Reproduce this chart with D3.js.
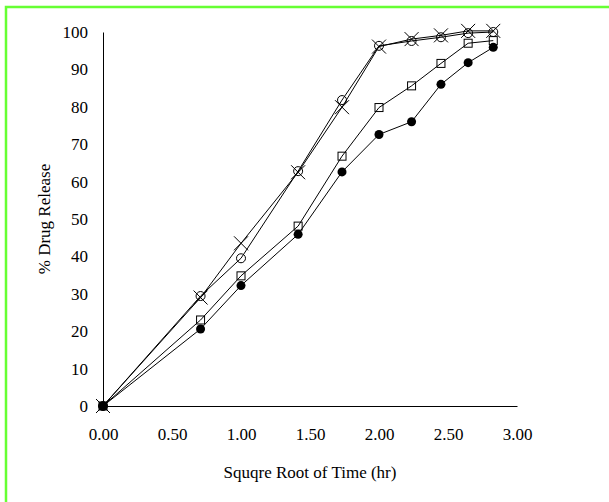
<!DOCTYPE html>
<html>
<head>
<meta charset="utf-8">
<script src="https://cdn.jsdelivr.net/npm/d3@7"></script>
<style>
  body { margin: 0; background: #fff; }
  text { font-family: "Liberation Serif", "Times New Roman", serif; fill: #000; }
</style>
</head>
<body>
<div class="chart"></div>
<script>
// square root of time (hr) for 0, 0.5, 1, 2 ... 8 h
var sqrtTime = [0, 0.707, 1, 1.414, 1.732, 2, 2.236, 2.449, 2.646, 2.828];
var filledCircle = [0, 20.6, 32.2, 45.9, 62.6, 72.6, 76.0, 86.0, 91.8, 95.9];
var openSquare = [0, 23.0, 34.8, 48.1, 66.8, 79.8, 85.6, 91.6, 97.0, 97.7];
var openCircle = [0, 29.4, 39.5, 62.8, 81.8, 96.3, 97.6, 98.6, 99.7, 100];
var crossMark = [0, 29.0, 43.5, 62.5, 79.9, 96.1, 98.1, 99.1, 100.3, 100.3];
var xTicks = [0, 0.5, 1, 1.5, 2, 2.5, 3];
var yTicks = [0, 10, 20, 30, 40, 50, 60, 70, 80, 90, 100];

const svgWidth = 609, svgHeight = 502;
var svg = d3.select(".chart").append("svg")
    .attr("width", svgWidth).attr("height", svgHeight);

// green frame
svg.append("rect")
    .attr("x", 6).attr("y", 7)
    .attr("width", 620).attr("height", 520)
    .attr("fill", "none")
    .attr("stroke", "#66ff33")
    .attr("stroke-width", 2.5);

var x = d3.scaleLinear().domain([0, 3]).range([103, 517]);
var y = d3.scaleLinear().domain([0, 100]).range([406, 32]);

var xAxis = svg.append("g")
    .attr("transform", "translate(0," + y(0) + ")")
    .call(d3.axisBottom(x).tickValues(xTicks).tickSize(0).tickPadding(22)
        .tickFormat(d3.format(".2f")));
var yAxis = svg.append("g")
    .attr("transform", "translate(" + x(0) + ",0)")
    .call(d3.axisLeft(y).tickValues(yTicks).tickSize(0).tickPadding(15));

xAxis.attr("font-family", "Liberation Serif").attr("font-size", 17);
yAxis.attr("font-family", "Liberation Serif").attr("font-size", 17);
svg.selectAll(".domain").attr("stroke", "#000").attr("stroke-width", 1);

svg.append("text")
    .text("Squqre Root of Time (hr)")
    .attr("x", 310).attr("y", 478)
    .attr("text-anchor", "middle")
    .style("font-size", "17px");

svg.append("text")
    .text("% Drug Release")
    .attr("transform", "translate(50," + ((y(0) + y(100)) / 2) + ") rotate(-90)")
    .attr("text-anchor", "middle")
    .style("font-size", "17px");

var series = [
    { values: filledCircle, marker: "filled" },
    { values: openSquare, marker: "square" },
    { values: openCircle, marker: "circle" },
    { values: crossMark, marker: "cross" }
];

var line = d3.line()
    .x(function (d) { return x(d[0]); })
    .y(function (d) { return y(d[1]); });

series.forEach(function (s) {
    var pts = sqrtTime.map(function (t, i) { return [t, s.values[i]]; });
    svg.append("path")
        .attr("d", line(pts))
        .attr("fill", "none")
        .attr("stroke", "#000")
        .attr("stroke-width", 1);

    var g = svg.selectAll(null).data(pts).enter().append("g")
        .attr("transform", function (d) { return "translate(" + x(d[0]) + "," + y(d[1]) + ")"; });

    if (s.marker == "filled") {
        g.append("circle").attr("r", 4.5).attr("fill", "#000");
    } else if (s.marker == "square") {
        g.append("rect").attr("x", -4).attr("y", -4).attr("width", 8).attr("height", 8)
            .attr("fill", "none").attr("stroke", "#000").attr("stroke-width", 1);
    } else if (s.marker == "circle") {
        g.append("circle").attr("r", 4.5)
            .attr("fill", "none").attr("stroke", "#000").attr("stroke-width", 1);
    } else {
        g.append("path").attr("d", "M-7,-7L7,7M-7,7L7,-7")
            .attr("stroke", "#000").attr("stroke-width", 1);
    }
});
</script>
</body>
</html>
